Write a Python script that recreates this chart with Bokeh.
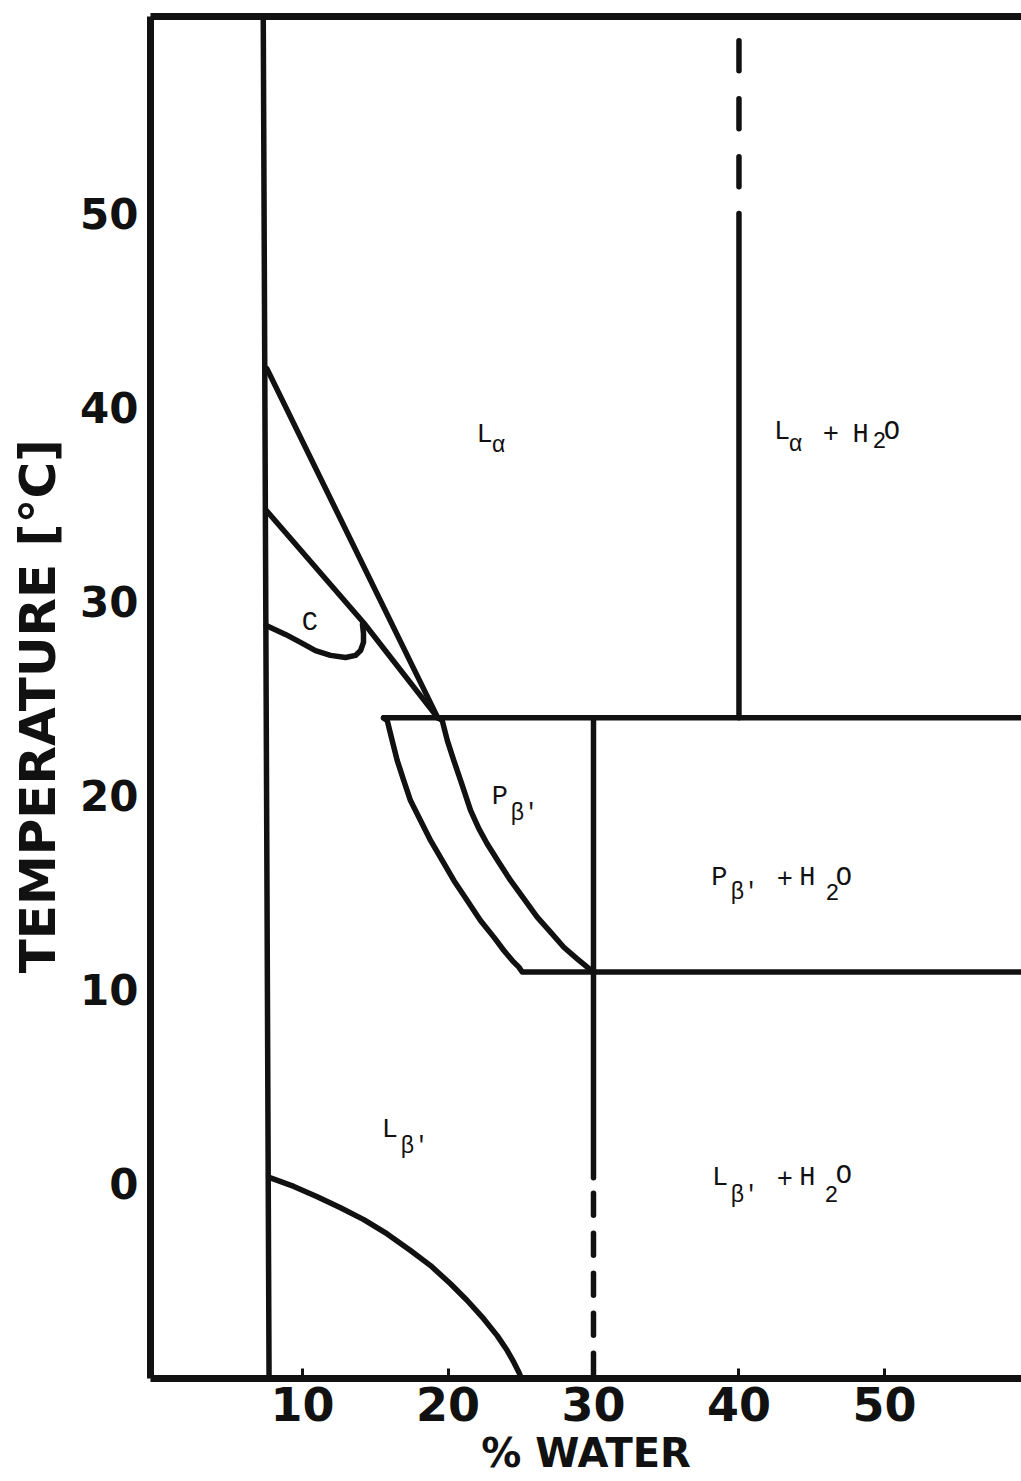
from bokeh.plotting import figure
from bokeh.models import Range1d, FixedTicker, LinearAxis, ColumnDataSource
from bokeh.core.properties import value
from bokeh.embed import file_html
from bokeh.resources import INLINE

# ---------------- data ----------------
x_ticks = [10, 20, 30, 40, 50]
y_ticks = [0, 10, 20, 30, 40, 50]

# lipid-rich limit (left vertical boundary)
limit_x = [7.3, 7.7]
limit_y = [60.2, -10.05]

# L_alpha / gel boundary: straight part, then the curved P_beta' right boundary
la_x = [7.55, 19.3, 19.60, 19.95, 20.40, 20.98, 21.55, 22.12, 22.69, 23.49, 24.30,
        25.21, 26.13, 27.05, 27.96, 28.88, 29.57, 30.0]
la_y = [42.0, 24.0, 23.87, 22.84, 21.80, 20.52, 19.23, 18.29, 17.51, 16.56, 15.62,
        14.68, 13.73, 12.96, 12.18, 11.58, 11.15, 10.9]

# upper boundary of the C region
cu_x = [7.5, 14.2, 19.3]
cu_y = [34.7, 28.9, 24.0]

# lower boundary of the C region (loop)
cl_x = [7.5, 8.83, 9.86, 10.89, 11.92, 12.96, 13.64, 13.99, 14.19, 14.19, 14.12]
cl_y = [28.76, 28.30, 27.89, 27.47, 27.22, 27.11, 27.22, 27.47, 27.89, 28.35, 28.81]

# P_beta' left boundary, joined to the 11 degC line
pl_x = [15.57, 15.82, 16.16, 16.51, 16.96, 17.42, 18.11, 18.80, 19.60, 20.40, 21.32,
        22.23, 23.15, 23.84, 24.42, 24.87, 25.1, 60.0]
pl_y = [24.0, 23.87, 22.84, 21.80, 20.77, 19.74, 18.71, 17.68, 16.65, 15.62, 14.59,
        13.56, 12.70, 12.01, 11.49, 11.15, 10.9, 10.9]

# 24 degC line
t24_x = [15.57, 60.0]
t24_y = [24.0, 24.0]

# water-excess boundary at 40 % (solid and dashed parts)
w40_x = [40.0, 40.0]
w40_y = [24.0, 50.0]
w40d_x = [40.0, 40.0]
w40d_y = [58.9, 50.1]

# water-excess boundary at 30 % (solid and dashed parts)
w30_x = [30.0, 30.0]
w30_y = [24.0, 0.3]
w30d_x = [30.0, 30.0]
w30d_y = [-0.5, -10.05]

# freezing curve
fz_x = [7.7, 9.40, 11.01, 12.61, 14.21, 15.82, 17.42, 18.80, 20.17, 21.32, 22.46,
        23.38, 24.07, 24.52, 24.87, 25.05]
fz_y = [0.32, -0.15, -0.68, -1.25, -1.86, -2.60, -3.45, -4.23, -5.17, -6.03, -6.98,
        -7.84, -8.61, -9.21, -9.73, -10.05]

# region labels: main characters and subscripts
main_text = ["L", "L", "+", "H", "O", "C", "P", "P", "+", "H", "O", "L", "L", "+", "H", "O"]
main_x = [21.95, 42.40, 45.75, 47.80, 49.95, 9.95, 23.0, 38.10, 42.60, 44.15, 46.65,
          15.45, 38.15, 42.60, 44.15, 46.65]
main_y = [38.56, 38.71, 38.66, 38.56, 38.76, 28.87, 19.90, 15.77, 15.77, 15.77, 15.77,
          2.78, 0.26, 0.26, 0.26, 0.41]

sub_text = ["α", "α", "2", "β'", "β'", "2", "β'", "β'", "2"]
sub_x = [22.99, 43.40, 49.17, 24.30, 39.42, 45.95, 16.74, 39.42, 45.88]
sub_y = [37.99, 38.09, 38.30, 19.07, 14.95, 15.05, 1.86, -0.62, -0.52]

# ---------------- figure ----------------
INK = "#111111"

p = figure(frame_width=871, frame_height=1362,
           x_range=Range1d(-0.45, 59.42), y_range=Range1d(-10.05, 60.15),
           output_backend="svg", toolbar_location=None,
           min_border_left=150, min_border_right=0, min_border_top=16,
           min_border_bottom=103,
           x_axis_label="% WATER", y_axis_label="TEMPERATURE  [°C]")

p.background_fill_color = "white"
p.border_fill_color = "white"
p.outline_line_color = None
p.xgrid.visible = False
p.ygrid.visible = False

for ax in (p.xaxis[0], p.yaxis[0]):
    ax.axis_line_width = 7
    ax.axis_line_color = INK
    ax.minor_tick_line_color = None
    ax.major_label_text_font = "DejaVu Sans"
    ax.major_label_text_font_style = "bold"
    ax.major_label_text_color = INK
    ax.axis_label_text_font = "DejaVu Sans"
    ax.axis_label_text_font_style = "bold"
    ax.axis_label_text_color = INK

p.xaxis.ticker = FixedTicker(ticks=x_ticks)
p.yaxis.ticker = FixedTicker(ticks=y_ticks)
p.xaxis.major_tick_in = 10
p.xaxis.major_tick_out = 0
p.xaxis.major_tick_line_width = 3
p.xaxis.major_tick_line_color = INK
p.yaxis.major_tick_line_color = None
p.xaxis.major_label_text_font_size = "46px"
p.yaxis.major_label_text_font_size = "42px"
p.xaxis.major_label_standoff = 8
p.yaxis.major_label_standoff = 6
p.xaxis.axis_label_text_font_size = "40px"
p.yaxis.axis_label_text_font_size = "50px"
p.xaxis.axis_label_standoff = 6
p.yaxis.axis_label_standoff = 10

top = LinearAxis(ticker=FixedTicker(ticks=[]), axis_line_width=7, axis_line_color=INK,
                 major_tick_line_color=None, minor_tick_line_color=None,
                 major_label_text_font_size="0px")
p.add_layout(top, "above")

lw = 5.5
solid = [(limit_x, limit_y), (la_x, la_y), (cu_x, cu_y), (cl_x, cl_y), (pl_x, pl_y),
         (t24_x, t24_y), (w40_x, w40_y), (w30_x, w30_y), (fz_x, fz_y)]
for xs, ys in solid:
    p.line(xs, ys, line_width=lw, line_color=INK, line_join="round", line_cap="round")

p.line(w40d_x, w40d_y, line_width=lw, line_color=INK, line_dash="30 28", line_cap="round")
p.line(w30d_x, w30d_y, line_width=lw, line_color=INK, line_dash="22 18", line_cap="round")

main_src = ColumnDataSource(dict(x=main_x, y=main_y, text=main_text))
sub_src = ColumnDataSource(dict(x=sub_x, y=sub_y, text=sub_text))
p.text(x="x", y="y", text="text", source=main_src, text_font=value("Liberation Mono"),
       text_font_size="27px", text_baseline="middle", text_align="left", text_color=INK)
p.text(x="x", y="y", text="text", source=sub_src, text_font=value("Liberation Mono"),
       text_font_size="23px", text_baseline="middle", text_align="left", text_color=INK)

open("out.html", "w").write(file_html(p, INLINE))
